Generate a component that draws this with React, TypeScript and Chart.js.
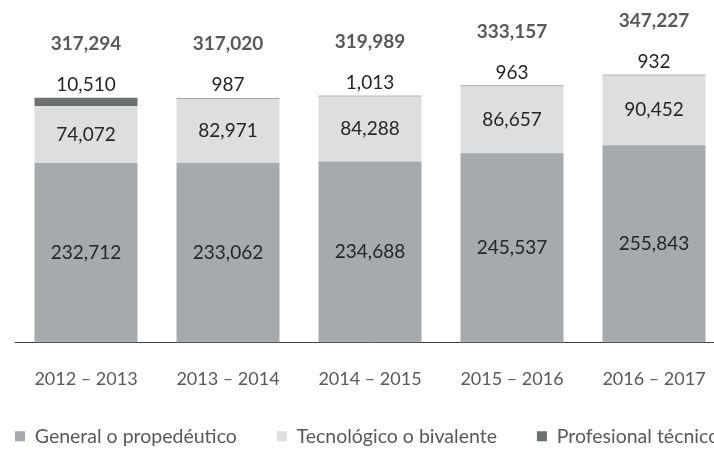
import React, { useEffect, useRef } from "react";
import { Chart, registerables } from "chart.js";

Chart.register(...registerables);

const categories = ["2012 – 2013", "2013 – 2014", "2014 – 2015", "2015 – 2016", "2016 – 2017"];
const generalValues = [232712, 233062, 234688, 245537, 255843];
const tecnologicoValues = [74072, 82971, 84288, 86657, 90452];
const profesionalValues = [10510, 987, 1013, 963, 932];
const seriesNames = ["General o propedéutico", "Tecnológico o bivalente", "Profesional técnico"];
const seriesColors = ["#a7aaac", "#dcdedf", "#6d7070"];

const FONT = "Lato";

const fmt = (v: number) => v.toLocaleString("en-US");

const valueLabels = {
  id: "valueLabels",
  afterDatasetsDraw(chart: any) {
    const ctx = chart.ctx;
    ctx.save();
    ctx.textAlign = "center";
    ctx.textBaseline = "middle";
    chart.data.datasets.forEach((ds: any, di: number) => {
      const meta = chart.getDatasetMeta(di);
      meta.data.forEach((el: any, i: number) => {
        const v = ds.data[i] as number;
        const { x, y, base } = el.getProps(["x", "y", "base"], true);
        ctx.font = `19px ${FONT}`;
        ctx.fillStyle = "#262626";
        if (di < 2) ctx.fillText(fmt(v), x, (y + base) / 2);
        else ctx.fillText(fmt(v), x, y - 13);
      });
    });
    const topMeta = chart.getDatasetMeta(chart.data.datasets.length - 1);
    topMeta.data.forEach((el: any, i: number) => {
      const total = chart.data.datasets.reduce((s: number, ds: any) => s + (ds.data[i] as number), 0);
      ctx.font = `bold 19px ${FONT}`;
      ctx.fillStyle = "#595959";
      ctx.fillText(fmt(total), el.x, el.y - 54);
    });
    ctx.restore();
  },
};

export default function App() {
  const ref = useRef<HTMLCanvasElement | null>(null);

  useEffect(() => {
    if (!ref.current) return;
    const seriesData = [generalValues, tecnologicoValues, profesionalValues];
    const chart = new Chart(ref.current, {
      type: "bar",
      data: {
        labels: categories,
        datasets: seriesNames.map((name, i) => ({
          label: name,
          data: seriesData[i],
          backgroundColor: seriesColors[i],
          borderWidth: 0,
          categoryPercentage: 1,
          barPercentage: 0.725,
        })),
      },
      options: {
        animation: false,
        responsive: true,
        maintainAspectRatio: false,
        events: [],
        layout: { padding: { top: 34, left: 0, right: 0, bottom: 0 } },
        plugins: {
          tooltip: { enabled: false },
          legend: {
            position: "bottom",
            align: "start",
            labels: {
              boxWidth: 10,
              boxHeight: 10,
              padding: 40,
              color: "#595959",
              font: { family: FONT, size: 19.5 },
            },
          },
        },
        scales: {
          x: {
            stacked: true,
            grid: { display: true, color: "transparent", drawTicks: true, tickLength: 29 },
            border: { display: true, color: "#3f3f3f", width: 1 },
            ticks: {
              color: "#595959",
              font: { family: FONT, size: 18, lineHeight: 15 / 18 },
              padding: 0,
              maxRotation: 0,
              autoSkip: false,
            },
          },
          y: {
            type: "linear",
            stacked: true,
            min: 0,
            max: 400000,
            display: true,
            ticks: { display: false },
            grid: { display: false },
            border: { display: false },
            afterFit: (s: any) => {
              s.width = 40;
            },
          },
          y2: {
            type: "linear",
            position: "right",
            display: true,
            ticks: { display: false },
            grid: { display: false },
            border: { display: false },
            afterFit: (s: any) => {
              s.width = 50;
            },
          },
        },
      },
      plugins: [valueLabels],
    });
    return () => chart.destroy();
  }, []);

  return (
    <div
      style={{
        position: "fixed",
        left: 0,
        top: 0,
        width: 714,
        height: 451,
        overflow: "hidden",
        background: "#ffffff",
      }}
    >
      <div style={{ position: "absolute", left: -25, top: 0, width: 800, height: 456 }}>
        <canvas ref={ref} />
      </div>
    </div>
  );
}
